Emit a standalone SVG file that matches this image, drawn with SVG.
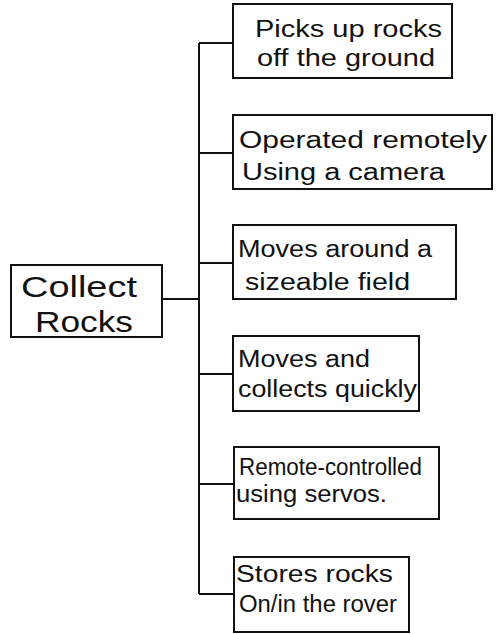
<svg xmlns="http://www.w3.org/2000/svg" width="496" height="634" viewBox="0 0 496 634">
  <style>
    .box { fill: #ffffff; stroke: #111111; stroke-width: 2; }
    .wire { fill: none; stroke: #111111; stroke-width: 2; }
    .lbl { font-family: "Liberation Sans", "DejaVu Sans", sans-serif; font-size: 23px; fill: #111111; }
    .root { font-family: "Liberation Sans", "DejaVu Sans", sans-serif; font-size: 30px; fill: #111111; }
  </style>
  <rect width="496" height="634" fill="#ffffff"/>

  <!-- tree connectors -->
  <g id="connectors">
    <path class="wire" d="M162 299 H199"/>
    <path class="wire" d="M199 43 V594"/>
    <path class="wire" d="M199 43 H233"/>
    <path class="wire" d="M199 153 H233"/>
    <path class="wire" d="M199 263 H233"/>
    <path class="wire" d="M199 374 H233"/>
    <path class="wire" d="M199 484 H234"/>
    <path class="wire" d="M199 594 H234"/>
  </g>

  <g id="collect-rocks">
    <rect class="box" x="11" y="265" width="151" height="72"/>
    <text class="root" x="21" y="297" textLength="116" lengthAdjust="spacingAndGlyphs">Collect</text>
    <text class="root" x="35" y="332" textLength="98" lengthAdjust="spacingAndGlyphs">Rocks</text>
  </g>

  <g id="picks-up">
    <rect class="box" x="233" y="4" width="219" height="74"/>
    <text class="lbl" x="255" y="37" textLength="187" lengthAdjust="spacingAndGlyphs">Picks up rocks</text>
    <text class="lbl" x="257" y="66" textLength="178" lengthAdjust="spacingAndGlyphs">off the ground</text>
  </g>

  <g id="operated-remotely">
    <rect class="box" x="233" y="115" width="259" height="74"/>
    <text class="lbl" x="239" y="148" textLength="248" lengthAdjust="spacingAndGlyphs">Operated remotely</text>
    <text class="lbl" x="242" y="180" textLength="203" lengthAdjust="spacingAndGlyphs">Using a camera</text>
  </g>

  <g id="moves-around">
    <rect class="box" x="233" y="225" width="223" height="74"/>
    <text class="lbl" x="238" y="257" textLength="194" lengthAdjust="spacingAndGlyphs">Moves around a</text>
    <text class="lbl" x="245" y="290" textLength="165" lengthAdjust="spacingAndGlyphs">sizeable field</text>
  </g>

  <g id="moves-and-collects">
    <rect class="box" x="233" y="336" width="186" height="75"/>
    <text class="lbl" x="238" y="367" textLength="132" lengthAdjust="spacingAndGlyphs">Moves and</text>
    <text class="lbl" x="238" y="397" textLength="179" lengthAdjust="spacingAndGlyphs">collects quickly</text>
  </g>

  <g id="remote-controlled">
    <rect class="box" x="234" y="447" width="205" height="72"/>
    <text class="lbl" x="239" y="475" textLength="183" lengthAdjust="spacingAndGlyphs">Remote-controlled</text>
    <text class="lbl" x="236" y="502" textLength="151" lengthAdjust="spacingAndGlyphs">using servos.</text>
  </g>

  <g id="stores-rocks">
    <rect class="box" x="234" y="557" width="175" height="75"/>
    <text class="lbl" x="236" y="582" textLength="157" lengthAdjust="spacingAndGlyphs">Stores rocks</text>
    <text class="lbl" x="239" y="612" textLength="158" lengthAdjust="spacingAndGlyphs">On/in the rover</text>
  </g>
</svg>
